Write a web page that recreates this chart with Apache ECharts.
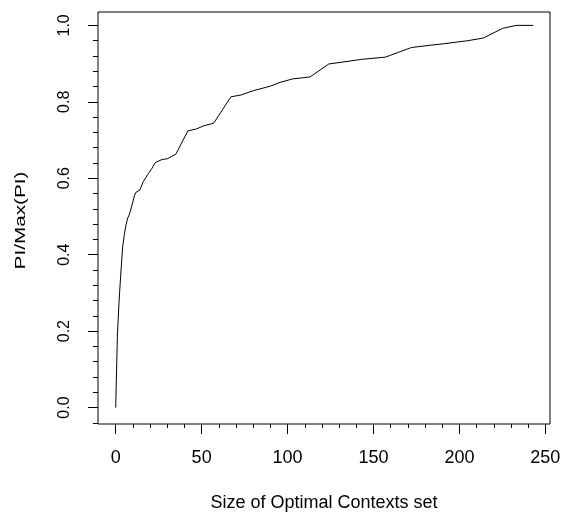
<!DOCTYPE html>
<html>
<head>
<meta charset="utf-8">
<script src="https://cdn.jsdelivr.net/npm/echarts@6/dist/echarts.min.js"></script>
<style>
  html, body { margin: 0; padding: 0; background: #fff; }
  #chart { width: 562px; height: 514px; }
</style>
</head>
<body>
<div id="chart"></div>
<script>
// Size of the optimal contexts set (x) and the normalised PI value (y)
const contextSize = [0, 1, 2, 3, 4, 5, 6, 7, 8, 10, 11, 12, 14, 16, 19, 21, 23, 27, 30, 35, 42, 47, 51, 57,
  67, 73, 80, 90, 95, 103, 113, 124, 132, 143, 157, 172, 183, 191, 205, 214, 225, 233, 243];
const piRatio = [0, 0.19, 0.281, 0.352, 0.418, 0.452, 0.478, 0.496, 0.506, 0.538, 0.556, 0.564, 0.569, 0.591,
  0.612, 0.625, 0.641, 0.649, 0.651, 0.663, 0.724, 0.729, 0.737, 0.744,
  0.813, 0.818, 0.829, 0.841, 0.850, 0.860, 0.865, 0.899, 0.904, 0.911, 0.917,
  0.942, 0.948, 0.952, 0.960, 0.967, 0.992, 1.0, 1.0];

// Axis ticks
const xTickLabels = [0, 50, 100, 150, 200, 250];
const xMinorTicks = [0, 10, 20, 30, 40, 50, 60, 70, 80, 90, 100, 110, 120, 130, 140, 150, 160, 170, 180, 190,
  200, 210, 220, 230, 240, 250];
const yTickLabels = [0.0, 0.2, 0.4, 0.6, 0.8, 1.0];
const yMinorTicks = [-0.04, 0, 0.04, 0.08, 0.12, 0.16, 0.2, 0.24, 0.28, 0.32, 0.36, 0.4, 0.44, 0.48, 0.52,
  0.56, 0.6, 0.64, 0.68, 0.72, 0.76, 0.8, 0.84, 0.88, 0.92, 0.96, 1.0];

const xTitle = 'Size of Optimal Contexts set';
const yTitle = 'PI/Max(PI)';

const FONT = '"Liberation Sans", Arial, sans-serif';
const X_MIN = -10.3, X_MAX = 252.7;
const Y_MIN = -0.043, Y_MAX = 1.035;

const chart = echarts.init(document.getElementById('chart'), null, { renderer: 'canvas' });

function xAxisCommon() {
  return {
    type: 'value', min: X_MIN, max: X_MAX, position: 'bottom',
    axisLine: { show: false, onZero: false }, splitLine: { show: false }
  };
}
function yAxisCommon() {
  return {
    type: 'value', min: Y_MIN, max: Y_MAX, position: 'left',
    axisLine: { show: false, onZero: false }, splitLine: { show: false }
  };
}

chart.setOption({
  animation: false,
  backgroundColor: '#fff',
  grid: {
    show: true, left: 98, top: 12, width: 452, height: 412,
    borderColor: '#000', borderWidth: 1, backgroundColor: 'transparent',
    containLabel: false, outerBoundsMode: 'none'
  },
  xAxis: [
    Object.assign(xAxisCommon(), {
      name: xTitle, nameLocation: 'middle', nameGap: 70,
      nameTextStyle: { fontFamily: FONT, fontSize: 18, color: '#000' },
      axisTick: { show: true, customValues: xTickLabels, length: 10, lineStyle: { color: '#000', width: 1 } },
      axisLabel: { show: true, customValues: xTickLabels, margin: 25, fontFamily: FONT, fontSize: 18, color: '#000' }
    }),
    Object.assign(xAxisCommon(), {
      axisTick: { show: true, customValues: xMinorTicks, length: 4, lineStyle: { color: '#000', width: 1 } },
      axisLabel: { show: false }
    })
  ],
  yAxis: [
    Object.assign(yAxisCommon(), {
      axisTick: { show: true, customValues: yTickLabels, length: 10, lineStyle: { color: '#000', width: 1 } },
      axisLabel: {
        show: true, customValues: yTickLabels, rotate: 90, margin: 25,
        fontFamily: FONT, fontSize: 16, color: '#000',
        formatter: v => Number(v).toFixed(1)
      }
    }),
    Object.assign(yAxisCommon(), {
      axisTick: { show: true, customValues: yMinorTicks, length: 5, lineStyle: { color: '#000', width: 1 } },
      axisLabel: { show: false }
    })
  ],
  graphic: [{
    type: 'text', x: 21.5, y: 220.5, rotation: Math.PI / 2, scaleX: 1.48, scaleY: 1,
    style: {
      text: yTitle, fontFamily: FONT, fontSize: 14, fill: '#000',
      align: 'center', verticalAlign: 'middle', textAlign: 'center', textVerticalAlign: 'middle'
    }
  }],
  series: [{
    type: 'line',
    xAxisIndex: 0, yAxisIndex: 0,
    data: contextSize.map((x, i) => [x, piRatio[i]]),
    showSymbol: false,
    lineStyle: { color: '#000', width: 1 },
    silent: true
  }]
});
</script>
</body>
</html>
